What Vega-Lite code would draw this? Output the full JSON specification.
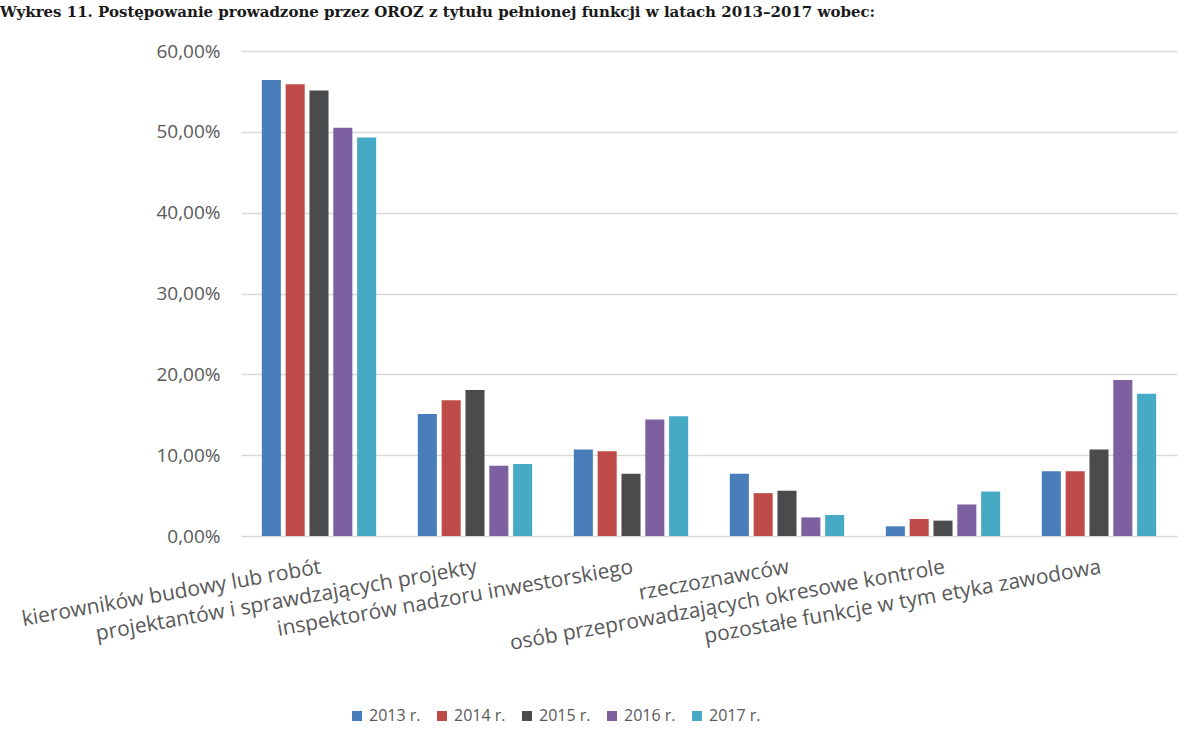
{
  "$schema": "https://vega.github.io/schema/vega-lite/v6.json",
  "width": 936,
  "height": 485,
  "autosize": "none",
  "padding": {"left": 241, "top": 51, "right": 5, "bottom": 202},
  "background": "#ffffff",
  "title": {
    "text": "Wykres 11. Postępowanie prowadzone przez OROZ z tytułu pełnionej funkcji w latach 2013–2017 wobec:",
    "orient": "top",
    "anchor": "start",
    "frame": "group",
    "dx": -241,
    "offset": 10,
    "baseline": "alphabetic",
    "font": "DejaVu Serif",
    "fontSize": 15,
    "fontWeight": "bold",
    "color": "#1a1a1a"
  },
  "data": {
    "values": [
      {"kategoria": "kierowników budowy lub robót", "rok": "2013 r.", "wartosc": 0.564},
      {"kategoria": "kierowników budowy lub robót", "rok": "2014 r.", "wartosc": 0.559},
      {"kategoria": "kierowników budowy lub robót", "rok": "2015 r.", "wartosc": 0.551},
      {"kategoria": "kierowników budowy lub robót", "rok": "2016 r.", "wartosc": 0.505},
      {"kategoria": "kierowników budowy lub robót", "rok": "2017 r.", "wartosc": 0.493},
      {"kategoria": "projektantów i sprawdzających projekty", "rok": "2013 r.", "wartosc": 0.151},
      {"kategoria": "projektantów i sprawdzających projekty", "rok": "2014 r.", "wartosc": 0.168},
      {"kategoria": "projektantów i sprawdzających projekty", "rok": "2015 r.", "wartosc": 0.1805},
      {"kategoria": "projektantów i sprawdzających projekty", "rok": "2016 r.", "wartosc": 0.087},
      {"kategoria": "projektantów i sprawdzających projekty", "rok": "2017 r.", "wartosc": 0.089},
      {"kategoria": "inspektorów nadzoru inwestorskiego", "rok": "2013 r.", "wartosc": 0.107},
      {"kategoria": "inspektorów nadzoru inwestorskiego", "rok": "2014 r.", "wartosc": 0.105},
      {"kategoria": "inspektorów nadzoru inwestorskiego", "rok": "2015 r.", "wartosc": 0.077},
      {"kategoria": "inspektorów nadzoru inwestorskiego", "rok": "2016 r.", "wartosc": 0.144},
      {"kategoria": "inspektorów nadzoru inwestorskiego", "rok": "2017 r.", "wartosc": 0.148},
      {"kategoria": "rzeczoznawców", "rok": "2013 r.", "wartosc": 0.077},
      {"kategoria": "rzeczoznawców", "rok": "2014 r.", "wartosc": 0.053},
      {"kategoria": "rzeczoznawców", "rok": "2015 r.", "wartosc": 0.056},
      {"kategoria": "rzeczoznawców", "rok": "2016 r.", "wartosc": 0.023},
      {"kategoria": "rzeczoznawców", "rok": "2017 r.", "wartosc": 0.026},
      {"kategoria": "osób przeprowadzających okresowe kontrole", "rok": "2013 r.", "wartosc": 0.012},
      {"kategoria": "osób przeprowadzających okresowe kontrole", "rok": "2014 r.", "wartosc": 0.021},
      {"kategoria": "osób przeprowadzających okresowe kontrole", "rok": "2015 r.", "wartosc": 0.019},
      {"kategoria": "osób przeprowadzających okresowe kontrole", "rok": "2016 r.", "wartosc": 0.039},
      {"kategoria": "osób przeprowadzających okresowe kontrole", "rok": "2017 r.", "wartosc": 0.055},
      {"kategoria": "pozostałe funkcje w tym etyka zawodowa", "rok": "2013 r.", "wartosc": 0.080},
      {"kategoria": "pozostałe funkcje w tym etyka zawodowa", "rok": "2014 r.", "wartosc": 0.080},
      {"kategoria": "pozostałe funkcje w tym etyka zawodowa", "rok": "2015 r.", "wartosc": 0.107},
      {"kategoria": "pozostałe funkcje w tym etyka zawodowa", "rok": "2016 r.", "wartosc": 0.193},
      {"kategoria": "pozostałe funkcje w tym etyka zawodowa", "rok": "2017 r.", "wartosc": 0.176}
    ]
  },
  "mark": {"type": "bar"},
  "encoding": {
    "x": {
      "field": "kategoria",
      "type": "nominal",
      "sort": null,
      "title": null,
      "scale": {"paddingInner": 0.267, "paddingOuter": 0.1335},
      "axis": {
        "domain": false,
        "ticks": false,
        "labelAngle": -10,
        "labelAlign": "right",
        "labelBaseline": "top",
        "labelPadding": 20,
        "labelFont": "Open Sans",
        "labelFontSize": 21,
        "labelColor": "#595959",
        "labelLimit": 0
      }
    },
    "xOffset": {
      "field": "rok",
      "type": "nominal",
      "sort": null,
      "scale": {"paddingInner": 0.2, "paddingOuter": 0}
    },
    "y": {
      "field": "wartosc",
      "type": "quantitative",
      "title": null,
      "scale": {"domain": [0, 0.6], "nice": false},
      "axis": {
        "values": [0, 0.1, 0.2, 0.3, 0.4, 0.5, 0.6],
        "domain": false,
        "ticks": false,
        "labelPadding": 21,
        "labelFont": "Open Sans",
        "labelFontSize": 19,
        "labelColor": "#595959",
        "labelExpr": "replace(format(datum.value, '.2%'), '.', ',')",
        "gridColor": "#d9d9d9",
        "gridWidth": 1.3
      }
    },
    "color": {
      "field": "rok",
      "type": "nominal",
      "sort": null,
      "title": null,
      "scale": {
        "domain": ["2013 r.", "2014 r.", "2015 r.", "2016 r.", "2017 r."],
        "range": ["#4a7ebb", "#be4b48", "#4a4b4d", "#7d60a0", "#46aac5"]
      },
      "legend": {
        "orient": "none",
        "direction": "horizontal",
        "legendX": 108,
        "legendY": 657,
        "symbolType": "square",
        "symbolSize": 100,
        "symbolStrokeWidth": 0,
        "labelFont": "Open Sans",
        "labelFontSize": 16,
        "labelColor": "#595959",
        "labelOffset": 4,
        "columnPadding": 13
      }
    }
  },
  "config": {
    "view": {"stroke": null}
  }
}
